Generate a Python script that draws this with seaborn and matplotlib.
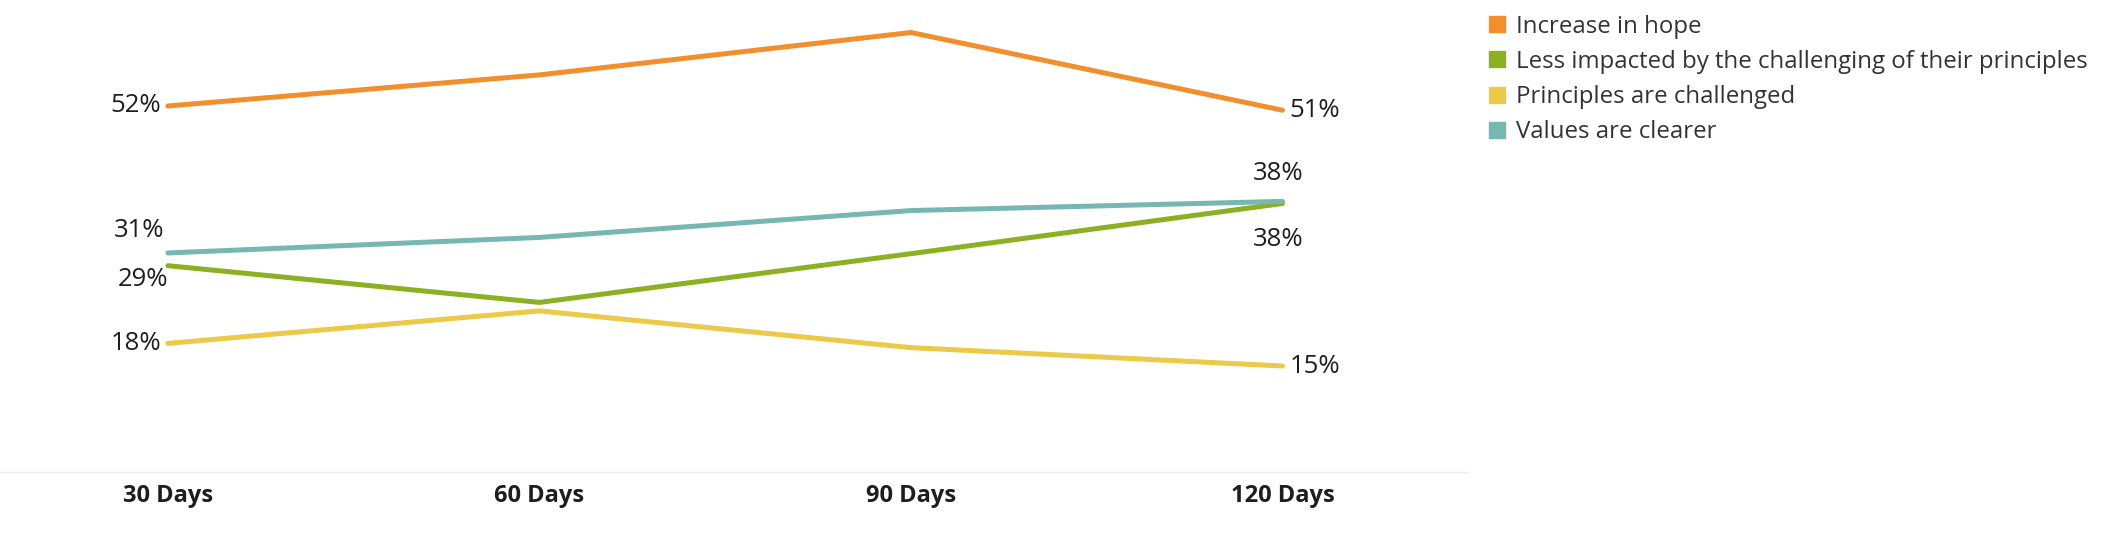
import matplotlib
matplotlib.use("Agg")
import matplotlib.pyplot as plt
from matplotlib.lines import Line2D
import seaborn as sns
import pandas as pd

periods = ["30 Days", "60 Days", "90 Days", "120 Days"]
series_names = ["Increase in hope",
                "Less impacted by the challenging of their principles",
                "Principles are challenged",
                "Values are clearer"]
hope = [51.8, 56.2, 62.2, 51.2]
less_impacted = [29.2, 24.0, 30.9, 38.0]
challenged = [18.2, 22.8, 17.6, 15.0]
clearer = [31.0, 33.2, 37.0, 38.3]
colors = ["#F28E2B", "#8CB021", "#EDC948", "#76B7B2"]

values = [hope, less_impacted, challenged, clearer]
rows = []
for name, vals in zip(series_names, values):
    for i, (p, v) in enumerate(zip(periods, vals)):
        rows.append({"Period": p, "idx": i, "Series": name, "Value": v})
df = pd.DataFrame(rows)

sns.set_theme(style="white")
plt.rcParams["font.family"] = ["Open Sans", "DejaVu Sans"]

W, H = 2121, 556
fig = plt.figure(figsize=(W / 100, H / 100), dpi=100)
ax = fig.add_axes([0, (H - 472) / H, 1469 / W, 472 / H])

sns.lineplot(data=df, x="idx", y="Value", hue="Series", hue_order=series_names,
             palette=colors, linewidth=3.6, ax=ax, legend=False,
             solid_capstyle="round")

ax.set_xlim(-0.452, 3.502)
ax.set_ylim(0, 66.8)
ax.set_xticks(range(len(periods)))
ax.set_xticklabels(periods, fontsize=17, fontweight="bold", color="#1e1e1e")
ax.set_xticks([0.5, 1.5, 2.5], minor=True)
ax.tick_params(axis="x", which="major", length=0, pad=9)
ax.tick_params(axis="x", which="minor", length=12, color="#f2f2f2", width=1)
ax.set_yticks([])
ax.set_xlabel("")
ax.set_ylabel("")
for s in ["top", "left", "right"]:
    ax.spines[s].set_visible(False)
ax.spines["bottom"].set_color("#ebebeb")
ax.spines["bottom"].set_linewidth(1)

lab_kw = dict(fontsize=18.5, color="#1e1e1e")
pt = 72 / 100  # points per pixel

def lab(x, y, txt, dx, dy, ha, va):
    ax.annotate(txt, (x, y), xytext=(dx * pt, dy * pt), textcoords="offset points",
                ha=ha, va=va, **lab_kw)

# first points
lab(0, hope[0], f"{round(hope[0])}%", -7, 0, "right", "center")
lab(0, clearer[0], f"{round(clearer[0])}%", -4, 22, "right", "center")
lab(0, less_impacted[0], f"{round(less_impacted[0])}%", 0, -14, "right", "center")
lab(0, challenged[0], f"{round(challenged[0])}%", -7, 0, "right", "center")
# last points
lab(3, hope[3], f"{round(hope[3])}%", 7, 0, "left", "center")
lab(3, clearer[3], f"{round(clearer[3])}%", -4, 28, "center", "center")
lab(3, less_impacted[3], f"{round(less_impacted[3])}%", -4, -36, "center", "center")
lab(3, challenged[3], f"{round(challenged[3])}%", 7, 0, "left", "center")

handles = [Line2D([0], [0], marker="s", linestyle="none", markersize=11,
                  markerfacecolor=c, markeredgecolor=c) for c in colors]
fig.legend(handles, series_names, loc="upper left",
           bbox_to_anchor=(1475 / W, 1 - 5 / H), frameon=False,
           fontsize=17.3, handletextpad=0.3, labelspacing=0.47,
           labelcolor="#333333", handlelength=1.0, borderaxespad=0)

fig.savefig("out.png", dpi=100)
